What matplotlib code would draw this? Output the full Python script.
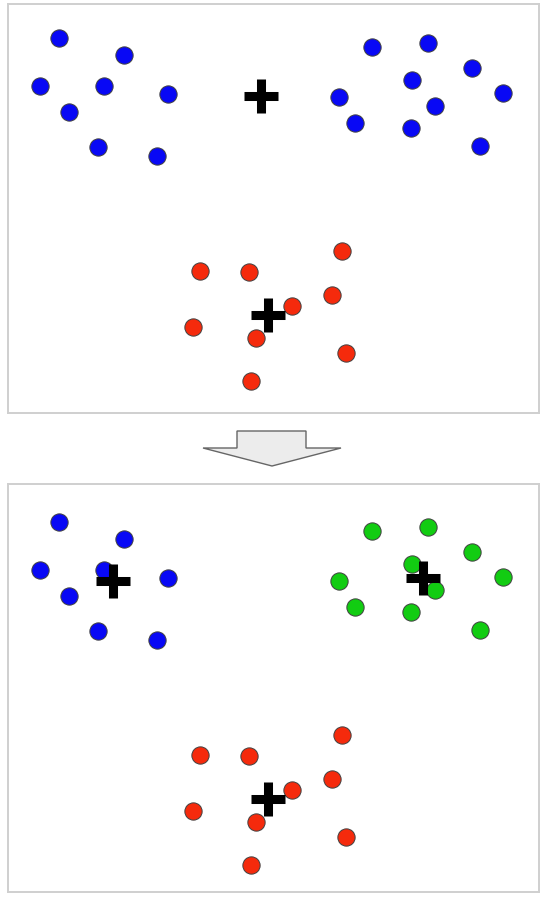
import matplotlib
matplotlib.use("Agg")
import matplotlib.pyplot as plt
from matplotlib.patches import Polygon

# Data points (panel coordinates)
left_x = [59, 124, 40, 104, 168, 69, 98, 157]
left_y = [38, 55, 86, 86, 94, 112, 147, 156]
right_x = [372, 428, 472, 412, 339, 503, 435, 355, 411, 480]
right_y = [47, 43, 68, 80, 97, 93, 106, 123, 128, 146]
red_x = [342, 200, 249, 292, 332, 193, 256, 346, 251]
red_y = [251, 271, 272, 306, 295, 327, 338, 353, 381]

# centroids
init_cx = [261, 268]
init_cy = [96, 315]
final_cx = [113, 423, 268]
final_cy = [97, 94, 315]

W, H = 546, 901
fig = plt.figure(figsize=(W / 100, H / 100), dpi=100)

BLUE = "#0808f5"
RED = "#f52a0c"
GREEN = "#12cc12"
EDGE = "#404040"
S = 155

def panel(top, bottom):
    ax = fig.add_axes([8 / W, 1 - bottom / H, 531 / W, (bottom - top) / H])
    ax.set_xlim(8, 539)
    ax.set_ylim(bottom - top + 4 if top < 100 else bottom - top, 4 if top < 100 else 0)
    ax.set_xticks([])
    ax.set_yticks([])
    for s in ax.spines.values():
        s.set_color("#cfcfcf")
        s.set_linewidth(1.4)
    return ax

ax1 = panel(4, 413)
ax1.scatter(left_x, left_y, s=S, c=BLUE, edgecolors=EDGE, linewidths=0.7, zorder=2)
ax1.scatter(right_x, right_y, s=S, c=BLUE, edgecolors=EDGE, linewidths=0.7, zorder=2)
ax1.scatter(red_x, red_y, s=S, c=RED, edgecolors=EDGE, linewidths=0.7, zorder=2)
ax1.plot(init_cx, init_cy, linestyle="none", marker="+", color="black",
         markersize=24, markeredgewidth=6.5, zorder=3)

ax2 = panel(484, 892)
ax2.scatter(left_x, left_y, s=S, c=BLUE, edgecolors=EDGE, linewidths=0.7, zorder=2)
ax2.scatter(right_x, right_y, s=S, c=GREEN, edgecolors=EDGE, linewidths=0.7, zorder=2)
ax2.scatter(red_x, red_y, s=S, c=RED, edgecolors=EDGE, linewidths=0.7, zorder=2)
ax2.plot(final_cx, final_cy, linestyle="none", marker="+", color="black",
         markersize=24, markeredgewidth=6.5, zorder=3)

# arrow overlay
ov = fig.add_axes([0, 0, 1, 1], facecolor="none")
ov.set_xlim(0, W)
ov.set_ylim(H, 0)
ov.axis("off")
arrow = Polygon([(237, 431), (306, 431), (306, 448), (341, 448), (272, 466),
                 (203, 448), (237, 448)], closed=True,
                facecolor="#ececec", edgecolor="#666666", linewidth=1.0)
ov.add_patch(arrow)

fig.savefig("out.png", dpi=100)
